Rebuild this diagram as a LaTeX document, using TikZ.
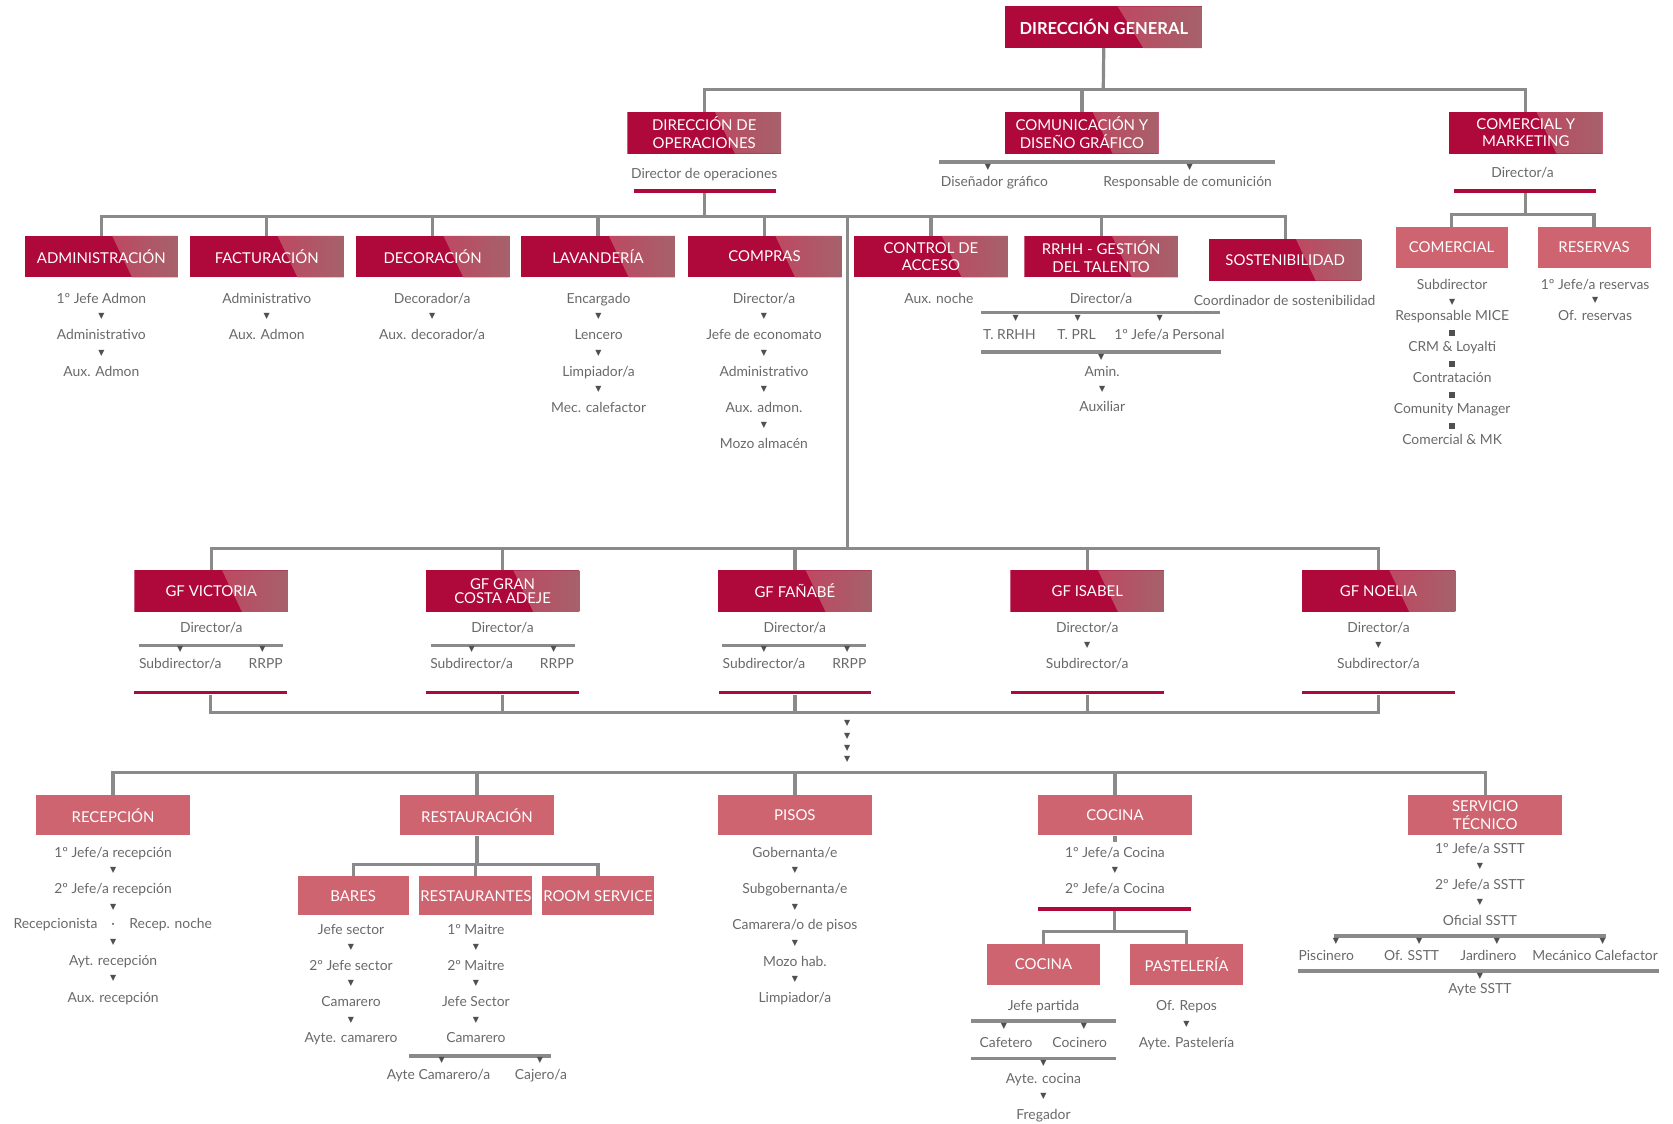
\documentclass[tikz,border=0pt]{standalone}
\usepackage{fontspec}
\setmainfont{Lato}
\newfontfamily\symf{DejaVu Sans}
\usetikzlibrary{calc}
\definecolor{crim}{RGB}{175,8,58}
\definecolor{grA}{RGB}{190,72,98}
\definecolor{grB}{RGB}{165,98,106}
\definecolor{salm}{RGB}{205,100,112}
\definecolor{lineg}{RGB}{138,138,138}
\definecolor{txtg}{RGB}{105,105,105}
\definecolor{arrg}{RGB}{80,80,80}
\newcommand\vlist[5]{%
  \foreach \t [count=\i] in {#5}{%
    \node[lbl] (#1\i) at (#2,{#3+#4*(\i-1)}) {\t};
    \ifnum\i>1 \node[tri] (#1m\i) at (#2,{#3+#4*(\i-1.5)}) {▼};\fi
  }}
\begin{document}
\begin{tikzpicture}[x=1pt,y=-1pt,
  conn/.style={draw=lineg, line width=3pt},
  hdr/.style={minimum width=144pt, minimum height=39pt, inner sep=0pt, text=white, align=center,
    font=\fontsize{14}{16.5}\selectfont,
    path picture={
      \fill[crim] (path picture bounding box.south west) rectangle (path picture bounding box.north east);
      \shade[left color=grA, right color=grB]
        ($(path picture bounding box.north west)!0.57!(path picture bounding box.north east)$) --
        (path picture bounding box.north east) -- (path picture bounding box.south east) --
        ($(path picture bounding box.south west)!0.70!(path picture bounding box.south east)$) -- cycle;
    }},
  sal/.style={fill=salm, text=white, minimum width=144pt, minimum height=38pt, inner sep=0pt, align=center,
    font=\fontsize{14}{16.5}\selectfont},
  lbl/.style={text=txtg, inner sep=0pt, anchor=base, yshift=-4.5pt, font=\fontsize{13}{15}\selectfont},
  tri/.style={text=arrg, inner sep=0pt, font=\symf\fontsize{7.5}{7.5}\selectfont},
  sq/.style={fill=arrg, minimum size=6pt, inner sep=0pt},
  rbar/.style={fill=crim, minimum height=3.5pt, inner sep=0pt},
  gbar/.style={fill=lineg, minimum height=3.5pt, inner sep=0pt}]
\path[use as bounding box] (0,0) rectangle (1568,1053);

% ---------- top level
\node[hdr, minimum width=185pt, font=\bfseries\fontsize{15.5}{17}\selectfont] (dg) at (1034.5,25.5) {DIRECCIÓN GENERAL};
\node[hdr] (do) at (660,124.5) {DIRECCIÓN DE\\OPERACIONES};
\node[hdr] (com) at (1014,124.5) {COMUNICACIÓN Y\\DISEÑO GRÁFICO};
\node[hdr] (cmk) at (1430,124.5) {COMERCIAL Y\\MARKETING};
\coordinate (b1) at (1034,84);
\draw[conn] (dg.south) -- (b1);
\draw[conn] (do.north) |- (b1) -| (cmk.north);
\draw[conn] (com.north) -- (com.north |- b1);

\node[lbl] (dol) at (660,163) {Director de operaciones};
\node[rbar, minimum width=133pt] (dobar) at (660.5,179) {};

\node[gbar, minimum width=315pt] (combar) at (1037.5,152) {};
\node[tri] (coma1) at (926,157) {▼};
\node[tri] (coma2) at (1115,157) {▼};
\node[lbl] (coml1) at (932,170) {Diseñador gráfico};
\node[lbl] (coml2) at (1113,170) {Responsable de comunición};

\node[lbl] (cmkl) at (1427,162) {Director/a};
\node[rbar, minimum width=133pt] (cmkbar) at (1429.5,179) {};
\node[sal, minimum width=105pt] (cmr) at (1360.5,232) {COMERCIAL};
\node[sal, minimum width=106pt] (res) at (1494,232) {RESERVAS};
\coordinate (b7) at (1430,201);
\draw[conn] (cmkbar.south) -- (cmkbar.south |- b7);
\draw[conn] (cmr.north) |- (b7) -| (res.north);
\node[lbl] (cmrl1) at (1361,267) {Subdirector};
\node[tri] (cmrm2) at (1361,283) {▼};
\node[lbl] (cmrl2) at (1361,296) {Responsable MICE};
\node[sq] (cmrm3) at (1361,312) {};
\node[lbl] (cmrl3) at (1361,325) {CRM \& Loyalti};
\node[sq] (cmrm4) at (1361,341) {};
\node[lbl] (cmrl4) at (1361,354) {Contratación};
\node[sq] (cmrm5) at (1361,370) {};
\node[lbl] (cmrl5) at (1361,383) {Comunity Manager};
\node[sq] (cmrm6) at (1361,399) {};
\node[lbl] (cmrl6) at (1361,412) {Comercial \& MK};
\vlist{resl}{1495}{267}{29}{1º Jefe/a reservas,Of. reservas}

% ---------- operations departments
\node[hdr] (adm) at (95,240.5) {ADMINISTRACIÓN};
\node[hdr] (fac) at (250,240.5) {FACTURACIÓN};
\node[hdr] (dec) at (405.5,240.5) {DECORACIÓN};
\node[hdr] (lav) at (560.5,240.5) {LAVANDERÍA};
\node[hdr] (cpr) at (716.5,240.5) {COMPRAS};
\node[hdr] (cda) at (872.5,240.5) {CONTROL DE\\ACCESO};
\node[hdr] (rrh) at (1032,240.5) {RRHH - GESTIÓN\\DEL TALENTO};
\node[hdr, minimum width=143pt] (sos) at (1204.5,243.5) {SOSTENIBILIDAD};
\coordinate (b2) at (794,203);
\draw[conn] (dobar.south) -- (dobar.south |- b2);
\draw[conn] (adm.north) |- (b2) -| (sos.north);
\foreach \n in {fac,dec,lav,cpr,cda,rrh} \draw[conn] (\n.north) -- (\n.north |- b2);

\vlist{adml}{95}{280}{34}{1º Jefe Admon,Administrativo,Aux. Admon}
\vlist{facl}{250}{280}{34}{Administrativo,Aux. Admon}
\vlist{decl}{405}{280}{34}{Decorador/a,Aux. decorador/a}
\vlist{lavl}{561}{280}{34}{Encargado,Lencero,Limpiador/a,Mec. calefactor}
\vlist{cprl}{716}{280}{34}{Director/a,Jefe de economato,Administrativo,Aux. admon.,Mozo almacén}
\node[lbl] (cdal) at (880,280) {Aux. noche};
\node[lbl] (rrhl1) at (1032,280) {Director/a};
\node[gbar, minimum width=224pt] (rrhbar1) at (1031,293) {};
\node[tri] (rrhm1) at (952,298) {▼};
\node[tri] (rrhm2) at (1010,298) {▼};
\node[tri] (rrhm3) at (1087,298) {▼};
\node[lbl] (rrhl2) at (946,314) {T. RRHH};
\node[lbl] (rrhl3) at (1009,314) {T. PRL};
\node[lbl] (rrhl4) at (1096,314) {1º Jefe/a Personal};
\node[gbar, minimum width=225pt] (rrhbar2) at (1031.5,330) {};
\node[tri] (rrhm4) at (1032,335) {▼};
\node[lbl] (rrhl5) at (1033,348) {Amin.};
\node[tri] (rrhm5) at (1033,365) {▼};
\node[lbl] (rrhl6) at (1033,381) {Auxiliar};
\node[lbl] (sosl) at (1204,282) {Coordinador de sostenibilidad};

% ---------- hotels
\coordinate (b3) at (794,514);
\draw[conn] (b2) -- (b3);
\node[hdr] (gfv) at (198,554) {GF VICTORIA};
\node[hdr, font=\fontsize{14}{12.5}\selectfont] (gfg) at (471,554) {GF GRAN\\COSTA ADEJE};
\node[hdr] (gff) at (745,554) {GF FAÑABÉ};
\node[hdr] (gfi) at (1019,554) {GF ISABEL};
\node[hdr] (gfn) at (1292,554) {GF NOELIA};
\draw[conn] (gfv.north) |- (b3) -| (gfn.north);
\foreach \n in {gfg,gff,gfi} \draw[conn] (\n.north) -- (\n.north |- b3);

\node[lbl] (gfvl1) at (198,588) {Director/a};
\node[gbar, minimum width=135pt] (gfvg) at (197.5,605) {};
\node[tri] (gfvm1) at (169,609) {▼};
\node[tri] (gfvm2) at (246,609) {▼};
\node[lbl] (gfvl2) at (169,622) {Subdirector/a};
\node[lbl] (gfvl3) at (249,622) {RRPP};
\node[rbar, minimum width=143pt] (gfvbar) at (197.5,649) {};

\node[lbl] (gfgl1) at (471,588) {Director/a};
\node[gbar, minimum width=135pt] (gfgg) at (471,605) {};
\node[tri] (gfgm1) at (442,609) {▼};
\node[tri] (gfgm2) at (519,609) {▼};
\node[lbl] (gfgl2) at (442,622) {Subdirector/a};
\node[lbl] (gfgl3) at (522,622) {RRPP};
\node[rbar, minimum width=143pt] (gfgbar) at (471,649) {};

\node[lbl] (gffl1) at (745,588) {Director/a};
\node[gbar, minimum width=135pt] (gffg) at (744.5,605) {};
\node[tri] (gffm1) at (716,609) {▼};
\node[tri] (gffm2) at (794,609) {▼};
\node[lbl] (gffl2) at (716,622) {Subdirector/a};
\node[lbl] (gffl3) at (796,622) {RRPP};
\node[rbar, minimum width=143pt] (gffbar) at (745,649) {};

\vlist{gfil}{1019}{588}{34}{Director/a,Subdirector/a}
\node[rbar, minimum width=143pt] (gfibar) at (1019,649) {};
\vlist{gfnl}{1292}{588}{34}{Director/a,Subdirector/a}
\node[rbar, minimum width=143pt] (gfnbar) at (1292,649) {};

\coordinate (b4) at (794,668);
\draw[conn] (gfvbar.south) |- (b4) -| (gfnbar.south);
\foreach \n in {gfgbar,gffbar,gfibar} \draw[conn] (\n.south) -- (\n.south |- b4);
\node[tri] (dot1) at (794,678) {▼};
\node[tri] (dot2) at (794,690) {▼};
\node[tri] (dot3) at (794,701) {▼};
\node[tri] (dot4) at (794,712) {▼};

% ---------- hotel departments
\node[sal] (rec) at (106,764) {RECEPCIÓN};
\node[sal] (rest) at (447,764) {RESTAURACIÓN};
\node[sal] (pis) at (745,764) {PISOS};
\node[sal] (coc) at (1045,764) {COCINA};
\node[sal] (sst) at (1392,764) {SERVICIO\\TÉCNICO};
\coordinate (b5) at (794,724);
\draw[conn] (rec.north) |- (b5) -| (sst.north);
\foreach \n in {rest,pis,coc} \draw[conn] (\n.north) -- (\n.north |- b5);

% recepcion
\node[lbl] (recl1) at (106,799) {1º Jefe/a recepción};
\node[tri] (recm1) at (106,816) {▼};
\node[lbl] (recl2) at (106,833) {2º Jefe/a recepción};
\node[tri] (recm2) at (106,850) {▼};
\node[lbl] (recl3a) at (52,866) {Recepcionista};
\node[lbl] (recdot) at (106,866) {·};
\node[lbl] (recl3b) at (160,866) {Recep. noche};
\node[tri] (recm3) at (106,883) {▼};
\node[lbl] (recl4) at (106,900) {Ayt. recepción};
\node[tri] (recm4) at (106,917) {▼};
\node[lbl] (recl5) at (106,935) {Aux. recepción};

% restauracion
\node[sal, minimum width=104pt, minimum height=37pt] (bares) at (331,839.5) {BARES};
\node[sal, minimum width=106pt, minimum height=37pt] (rtes) at (446,839.5) {RESTAURANTES};
\node[sal, minimum width=105pt, minimum height=37pt] (rms) at (560.5,839.5) {ROOM SERVICE};
\coordinate (b6) at (446,810);
\draw[conn] (rest.south) -- (rest.south |- b6);
\draw[conn] (bares.north) |- (b6) -| (rms.north);
\draw[conn] (rtes.north) -- (rtes.north |- b6);
\vlist{barl}{329}{871}{34}{Jefe sector,2º Jefe sector,Camarero,Ayte. camarero}
\vlist{rtel}{446}{871}{34}{1º Maitre,2º Maitre,Jefe Sector,Camarero}
\node[gbar, minimum width=133pt] (rtebar) at (449.5,990) {};
\node[tri] (rtem6) at (414,994) {▼};
\node[tri] (rtem7) at (506,994) {▼};
\node[lbl] (rtel6) at (411,1007) {Ayte Camarero/a};
\node[lbl] (rtel7) at (507,1007) {Cajero/a};

% pisos
\vlist{pisl}{745}{799}{34}{Gobernanta/e,Subgobernanta/e,Camarera/o de pisos,Mozo hab.,Limpiador/a}

% cocina
\coordinate (cocst) at (1045,789);
\draw[conn] (coc.south) -- (cocst);
\vlist{cocl}{1045}{799}{34}{1º Jefe/a Cocina,2º Jefe/a Cocina}
\node[rbar, minimum width=143pt] (cocbar) at (1044.5,852) {};
\node[sal, minimum width=106pt] (cc) at (978,904) {COCINA};
\node[sal, minimum width=106pt] (pas) at (1112,904) {PASTELERÍA};
\coordinate (b8) at (1045,873);
\draw[conn] (cocbar.south) -- (cocbar.south |- b8);
\draw[conn] (cc.north) |- (b8) -| (pas.north);
\node[lbl] (ccl1) at (978,943) {Jefe partida};
\node[gbar, minimum width=136pt] (ccbar1) at (978,957) {};
\node[tri] (ccm1) at (941,962) {▼};
\node[tri] (ccm2) at (1016,962) {▼};
\node[lbl] (ccl2) at (943,977) {Cafetero};
\node[lbl] (ccl3) at (1012,977) {Cocinero};
\node[gbar, minimum width=136pt] (ccbar2) at (978,992) {};
\node[tri] (ccm3) at (978,997) {▼};
\node[lbl] (ccl4) at (978,1011) {Ayte. cocina};
\node[tri] (ccm4) at (978,1028) {▼};
\node[lbl] (ccl5) at (978,1045) {Fregador};
\vlist{pasl}{1112}{943}{34}{Of. Repos,Ayte. Pastelería}

% servicio tecnico
\vlist{sstl}{1387}{795}{34}{1º Jefe/a SSTT,2º Jefe/a SSTT,Oficial SSTT}
\node[gbar, minimum width=255pt] (sstbar1) at (1377.5,877) {};
\node[tri] (sstm4) at (1252,882) {▼};
\node[tri] (sstm5) at (1330,882) {▼};
\node[tri] (sstm6) at (1403,882) {▼};
\node[tri] (sstm7) at (1502,882) {▼};
\node[lbl] (sstl4) at (1243,896) {Piscinero};
\node[lbl] (sstl5) at (1323,896) {Of. SSTT};
\node[lbl] (sstl6) at (1395,896) {Jardinero};
\node[lbl] (sstl7) at (1495,896) {Mecánico Calefactor};
\node[gbar, minimum width=338pt] (sstbar2) at (1385.5,910) {};
\node[tri] (sstm8) at (1387,915) {▼};
\node[lbl] (sstl8) at (1387,927) {Ayte SSTT};
\end{tikzpicture}
\end{document}
